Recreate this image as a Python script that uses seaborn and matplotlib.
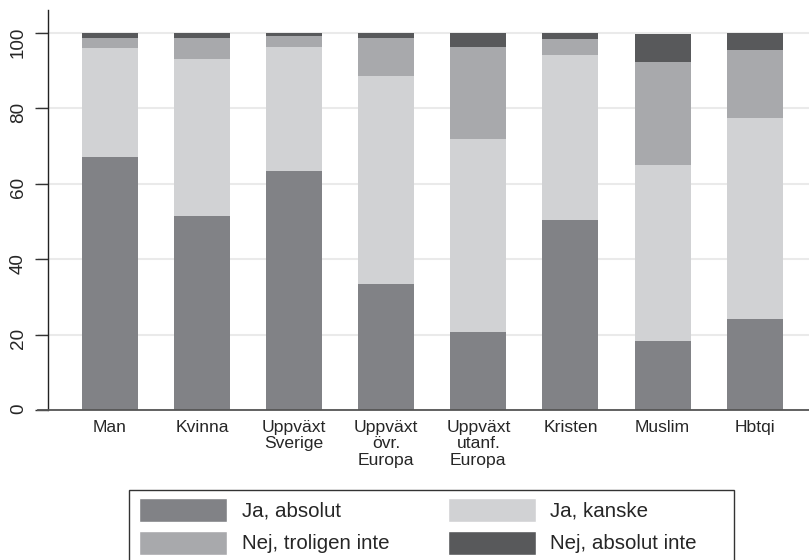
import matplotlib
matplotlib.use("Agg")
import matplotlib.pyplot as plt
from matplotlib.patches import Patch, Rectangle
import seaborn as sns
import pandas as pd
import numpy as np

categories = ["Man", "Kvinna", "Uppväxt\nSverige", "Uppväxt\növr.\nEuropa",
              "Uppväxt\nutanf.\nEuropa", "Kristen", "Muslim", "Hbtqi"]
ja_absolut = [67.2, 51.5, 63.4, 33.5, 20.7, 50.4, 18.4, 24.2]
ja_kanske = [28.8, 41.6, 32.8, 55.1, 51.2, 43.7, 46.6, 53.3]
nej_troligen = [2.6, 5.5, 3.0, 10.0, 24.3, 4.1, 27.3, 18.0]
nej_absolut = [1.4, 1.4, 0.8, 1.4, 3.8, 1.8, 7.4, 4.5]
series_labels = ["Ja, absolut", "Ja, kanske", "Nej, troligen inte", "Nej, absolut inte"]
yticks = [0, 20, 40, 60, 80, 100]
colors = ["#818286", "#d1d2d4", "#a8a9ac", "#58595b"]

sns.set_style("white")
plt.rcParams["font.family"] = ["Liberation Sans", "DejaVu Sans"]

W, H = 809, 560
fig = plt.figure(figsize=(W / 100, H / 100), dpi=100)
ax = fig.add_axes([38 / W, (H - 410.3) / H, (W - 38) / W, (410.3 - 10) / H])

df = pd.DataFrame({
    "cat": categories,
    "s1": ja_absolut, "s2": ja_kanske, "s3": nej_troligen, "s4": nej_absolut,
})
cols = ["s1", "s2", "s3", "s4"]
cum = df[cols].cumsum(axis=1)

for i in reversed(range(4)):
    sns.barplot(x=df["cat"], y=cum[cols[i]], order=categories, color=colors[i],
                saturation=1, width=0.608, ax=ax, linewidth=0, zorder=2)

ax.set_xlabel("")
ax.set_ylabel("")
ax.set_ylim(0, 106.0)
ax.set_xlim(-0.781, 7.59)
ax.set_yticks(yticks)
ax.set_yticklabels([str(v) for v in yticks])
ax.tick_params(axis="y", length=9.3, width=1, color="#333333", pad=5.5, left=True,
               labelrotation=90, labelsize=13.6)
ax.tick_params(axis="x", length=0, pad=6.8, labelsize=12.6)
for lab in ax.get_yticklabels():
    lab.set_va("center")
for lab in ax.get_xticklabels():
    lab.set_linespacing(1.12)

ax.yaxis.grid(True, color="#eaeaea", lw=1.5)
ax.set_axisbelow(True)
for s in ["top", "right"]:
    ax.spines[s].set_visible(False)
ax.spines["left"].set_position(("data", -0.676))
ax.spines["left"].set_color("#222222")
ax.spines["left"].set_linewidth(1.0)
ax.spines["bottom"].set_color("#555555")
ax.spines["bottom"].set_linewidth(1.3)

handles = [Patch(facecolor=colors[0], label=series_labels[0]),
           Patch(facecolor=colors[2], label=series_labels[2]),
           Patch(facecolor=colors[1], label=series_labels[1]),
           Patch(facecolor=colors[3], label=series_labels[3])]
lfs_pt = 14.8
fs = lfs_pt * 100 / 72
hh = (24 / fs - 0.245) / 0.65
fig.legend(handles=handles, ncol=2, loc="upper left",
           bbox_to_anchor=(139 / W, (H - 498) / H), bbox_transform=fig.transFigure,
           frameon=False, borderpad=0, borderaxespad=0, fontsize=lfs_pt,
           handlelength=88 / fs, handleheight=hh, handletextpad=15 / fs,
           labelspacing=8.5 / fs, columnspacing=58 / fs)
fig.patches.append(Rectangle((129 / W, (H - 563) / H), (734 - 129) / W, 73 / H,
                             transform=fig.transFigure, fill=False,
                             edgecolor="#333333", lw=1.0))

fig.savefig("out.png", dpi=100)
